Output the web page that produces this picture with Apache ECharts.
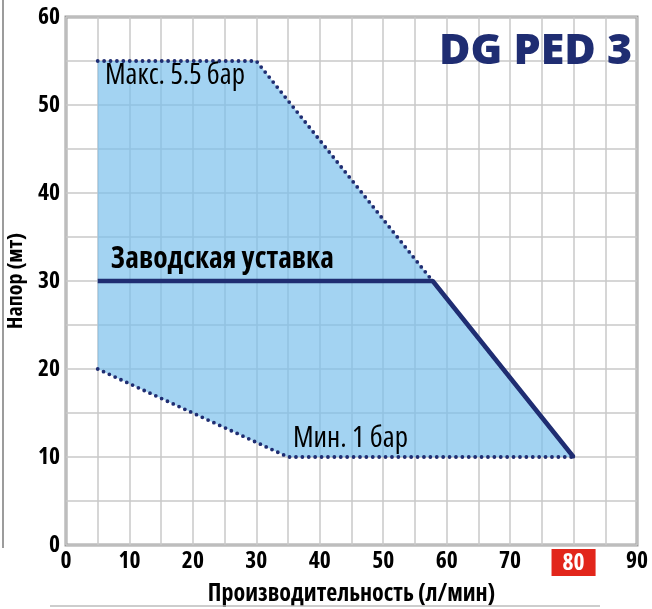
<!DOCTYPE html>
<html>
<head>
<meta charset="utf-8">
<script src="https://cdn.jsdelivr.net/npm/echarts@6/dist/echarts.min.js"></script>
<style>
  html, body { margin: 0; padding: 0; background: #fff; }
  #chart { width: 652px; height: 609px; }
</style>
</head>
<body>
<div id="chart"></div>
<script>
  // pump envelope, flow in l/min, head in m
  const maxFlow = [5, 30, 80];
  const maxHead = [55, 55, 10];
  const minFlow = [5, 35, 80];
  const minHead = [20, 10, 10];
  const setFlow = [5, 57.8, 80];
  const setHead = [30, 30, 10];
  const highlightTick = 80;

  const fam = "'Open Sans', sans-serif";
  const boldCond = 'bold condensed';
  const navy = '#1f2d72';
  const toPts = (xs, ys) => xs.map((x, i) => [x, ys[i]]);

  const maxLine = toPts(maxFlow, maxHead);
  const minLine = toPts(minFlow, minHead);
  const setLine = toPts(setFlow, setHead);
  const envelope = maxLine.concat(minLine.slice().reverse());

  const chart = echarts.init(document.getElementById('chart'));

  const dotted = { color: navy, width: 3.8, type: [0, 6.4], cap: 'round' };
  const tickText = { fontFamily: fam, fontWeight: boldCond, fontSize: 23.5, color: '#000' };

  chart.setOption({
    backgroundColor: '#fff',
    animation: false,
    grid: {
      left: 66, right: 15, top: 17, bottom: 64, outerBoundsMode: 'none',
      show: true, borderColor: '#9c9c9c', borderWidth: 3
    },
    xAxis: {
      type: 'value', min: 0, max: 90, interval: 5,
      name: 'Производительность (л/мин)', nameLocation: 'middle', nameGap: 37,
      nameTextStyle: { fontFamily: fam, fontWeight: boldCond, fontSize: 24, color: '#000' },
      axisLine: { show: false }, axisTick: { show: false },
      splitLine: { lineStyle: { color: '#c9c9c9', width: 1.5 } },
      axisLabel: Object.assign({
        margin: 4,
        formatter: (v) => v % 10 ? '' : (v === highlightTick ? '{r|' + v + '}' : String(v)),
        rich: { r: Object.assign({}, tickText, { backgroundColor: '#e2261b', color: '#fff', padding: [2, 11, 1, 11] }) }
      }, tickText)
    },
    yAxis: {
      type: 'value', min: 0, max: 60, interval: 5,
      name: 'Напор (мт)', nameLocation: 'middle', nameGap: 29, nameRotate: 90,
      nameTextStyle: { fontFamily: fam, fontWeight: boldCond, fontSize: 22, color: '#000' },
      axisLine: { show: false }, axisTick: { show: false },
      splitLine: { lineStyle: { color: '#c9c9c9', width: 1.5 } },
      axisLabel: Object.assign({
        margin: 6,
        formatter: (v) => v % 10 ? '' : String(v)
      }, tickText)
    },
    series: [
      {
        type: 'custom', data: [0], z: 2,
        renderItem: (params, api) => ({
          type: 'polygon',
          shape: { points: envelope.map((p) => api.coord(p)) },
          style: { fill: 'rgba(120,190,236,0.68)' }
        })
      },
      { type: 'line', data: maxLine, symbol: 'none', z: 3, lineStyle: dotted },
      { type: 'line', data: minLine, symbol: 'none', z: 3, lineStyle: dotted },
      { type: 'line', data: setLine, symbol: 'none', z: 4, lineStyle: { color: navy, width: 4.5 } }
    ],
    graphic: [
      { type: 'line', z: 10, shape: { x1: 3, y1: 0, x2: 3, y2: 548 }, style: { stroke: '#9c9c9c', lineWidth: 2 } },
      { type: 'line', z: 10, shape: { x1: 50, y1: 606, x2: 600, y2: 606 }, style: { stroke: '#bdbdbd', lineWidth: 1.5 } },
      { type: 'text', z: 10, x: 439, y: 52, style: { text: 'DG PED 3', fill: navy, font: "800 43px 'Open Sans', sans-serif", verticalAlign: 'middle' } },
      { type: 'text', z: 10, x: 105, y: 76, style: { text: 'Макс. 5.5 бар', fill: '#000', font: "condensed 29px 'Open Sans', sans-serif", verticalAlign: 'middle' } },
      { type: 'text', z: 10, x: 111, y: 260, style: { text: 'Заводская уставка', fill: '#000', font: "bold condensed 29.5px 'Open Sans', sans-serif", verticalAlign: 'middle' } },
      { type: 'text', z: 10, x: 293, y: 439, style: { text: 'Мин. 1 бар', fill: '#000', font: "condensed 29px 'Open Sans', sans-serif", verticalAlign: 'middle' } }
    ]
  });
</script>
</body>
</html>
